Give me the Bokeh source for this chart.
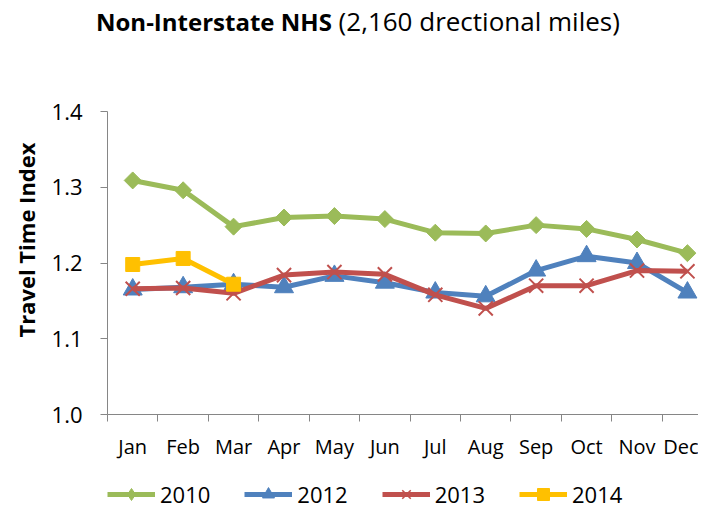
import numpy as np
from bokeh.plotting import figure
from bokeh.layouts import column
from bokeh.models import (Range1d, FixedTicker, Legend, LegendItem, Title,
                          PrintfTickFormatter, Div)
from bokeh.embed import file_html
from bokeh.resources import INLINE

months = ["Jan", "Feb", "Mar", "Apr", "May", "Jun",
          "Jul", "Aug", "Sep", "Oct", "Nov", "Dec"]
y2010 = [1.309, 1.296, 1.248, 1.260, 1.262, 1.258, 1.240, 1.239, 1.250, 1.245, 1.231, 1.213]
y2012 = [1.165, 1.168, 1.172, 1.168, 1.183, 1.174, 1.161, 1.156, 1.190, 1.209, 1.200, 1.161]
y2013 = [1.166, 1.167, 1.160, 1.184, 1.188, 1.185, 1.158, 1.140, 1.170, 1.170, 1.190, 1.189]
y2014 = [1.198, 1.206, 1.172]
series_names = ["2010", "2012", "2013", "2014"]
y_ticks = [1.0, 1.1, 1.2, 1.3, 1.4]

FONT = "Open Sans"
W = 698
DIV_H = 44
MAIN_BOTTOM = 466          # page y where the main figure ends
TOTAL_H = 509
H = MAIN_BOTTOM - DIV_H
LEFT, TOP = 105, 111 - DIV_H
FRAME_BOTTOM = 414 - DIV_H
BOTTOM = H - FRAME_BOTTOM
LEG_H = TOTAL_H - MAIN_BOTTOM

xs = list(range(len(months)))
cat_w = 50.6
x_end = -0.5 + (W - LEFT) / cat_w

title = Div(text='<span style="font-weight:bold;font-size:24px">Non-Interstate NHS</span> (2,160 drectional miles)',
            width=W, height=DIV_H, margin=(0, 0, 0, 0),
            styles={"font-family": FONT, "font-size": "26px", "color": "#000000",
                    "padding-left": "96px", "padding-top": "6px", "white-space": "nowrap",
                    "line-height": "30px"})

p = figure(width=W, height=H, output_backend="svg", toolbar_location=None,
           x_range=Range1d(-0.5, x_end), y_range=Range1d(1.0, 1.4),
           min_border_left=LEFT, min_border_right=0, min_border_top=TOP,
           min_border_bottom=BOTTOM, outline_line_color=None)
p.grid.visible = False

axis_color = "#868686"
# x axis
p.xaxis.ticker = FixedTicker(ticks=xs, minor_ticks=[i - 0.5 for i in range(len(months) + 1)])
p.xaxis.major_label_overrides = {i: m for i, m in enumerate(months)}
p.xaxis.major_tick_out = 0
p.xaxis.major_tick_in = 0
p.xaxis.minor_tick_out = 7
p.xaxis.minor_tick_in = 0
p.xaxis.minor_tick_line_color = axis_color
p.xaxis.axis_line_color = axis_color
p.xaxis.major_label_standoff = 11
p.xaxis.major_label_text_font = FONT
p.xaxis.major_label_text_font_size = "20px"
p.xaxis.major_label_text_color = "#000000"

# y axis
p.yaxis.ticker = FixedTicker(ticks=y_ticks, minor_ticks=[])
p.yaxis.formatter = PrintfTickFormatter(format="%.1f")
p.yaxis.major_tick_out = 7
p.yaxis.major_tick_in = 0
p.yaxis.minor_tick_out = 0
p.yaxis.minor_tick_in = 0
p.yaxis.major_tick_line_color = axis_color
p.yaxis.axis_line_color = axis_color
p.yaxis.major_label_standoff = 18
p.yaxis.major_label_text_font = FONT
p.yaxis.major_label_text_font_size = "22px"
p.yaxis.major_label_text_color = "#000000"

# y title as a left-side Title, placed like the reference (a bit above centre)
p.add_layout(Title(text="Travel Time Index", align="right", offset=31, standoff=16,
                   text_font=FONT, text_font_style="bold", text_font_size="22px",
                   text_color="#000000"), "left")

green, blue, red, yellow = "#9BBB59", "#4F81BD", "#C0504D", "#FFC000"
LW = 5

p.line(xs, y2010, line_color=green, line_width=LW)
p.scatter(xs, y2010, marker="square", angle=np.pi / 4, size=12,
          fill_color=green, line_color=green)
p.line(xs, y2012, line_color=blue, line_width=LW)
p.scatter(xs, y2012, marker="triangle", size=19, fill_color=blue, line_color=blue)
p.line(xs, y2013, line_color=red, line_width=LW)
p.scatter(xs, y2013, marker="x", size=20, line_color=red, line_width=2)
p.line(xs[:len(y2014)], y2014, line_color=yellow, line_width=LW)
p.scatter(xs[:len(y2014)], y2014, marker="square", size=14,
          fill_color=yellow, line_color=yellow)

# legend strip: its own small figure; the series are drawn there outside its
# visible y range, so only the legend swatches show
q = figure(width=W, height=LEG_H, output_backend="svg", toolbar_location=None,
           x_axis_type=None, y_axis_type=None, x_range=Range1d(0, 1), y_range=Range1d(0, 0.5),
           min_border_left=0, min_border_right=0, min_border_top=0, min_border_bottom=0,
           outline_line_color=None)
series = [y2010, y2012, y2013, y2014]
styles = [
    (green, dict(marker="diamond", fill_color=green, line_color=green)),
    (blue, dict(marker="triangle", fill_color=blue, line_color=blue)),
    (red, dict(marker="x", line_color=red, line_width=1.6)),
    (yellow, dict(marker="square", fill_color=yellow, line_color=yellow)),
]
items = []
for name, ys, (col, mk) in zip(series_names, series, styles):
    sx = xs[:len(ys)]
    lr = q.line(sx, ys, line_color=col, line_width=LW)
    sr = q.scatter(sx, ys, **mk)
    items.append(LegendItem(label=name, renderers=[lr, sr]))
legend = Legend(items=items, orientation="horizontal", location=(0, 0),
                glyph_width=48, glyph_height=30, label_standoff=5, spacing=34,
                padding=0, margin=0, border_line_color=None, background_fill_alpha=0,
                label_text_font=FONT, label_text_font_size="22px", label_text_color="#000000")
q.add_layout(legend, "center")

open("out.html", "w").write(file_html(column(title, p, q, spacing=0), INLINE))
